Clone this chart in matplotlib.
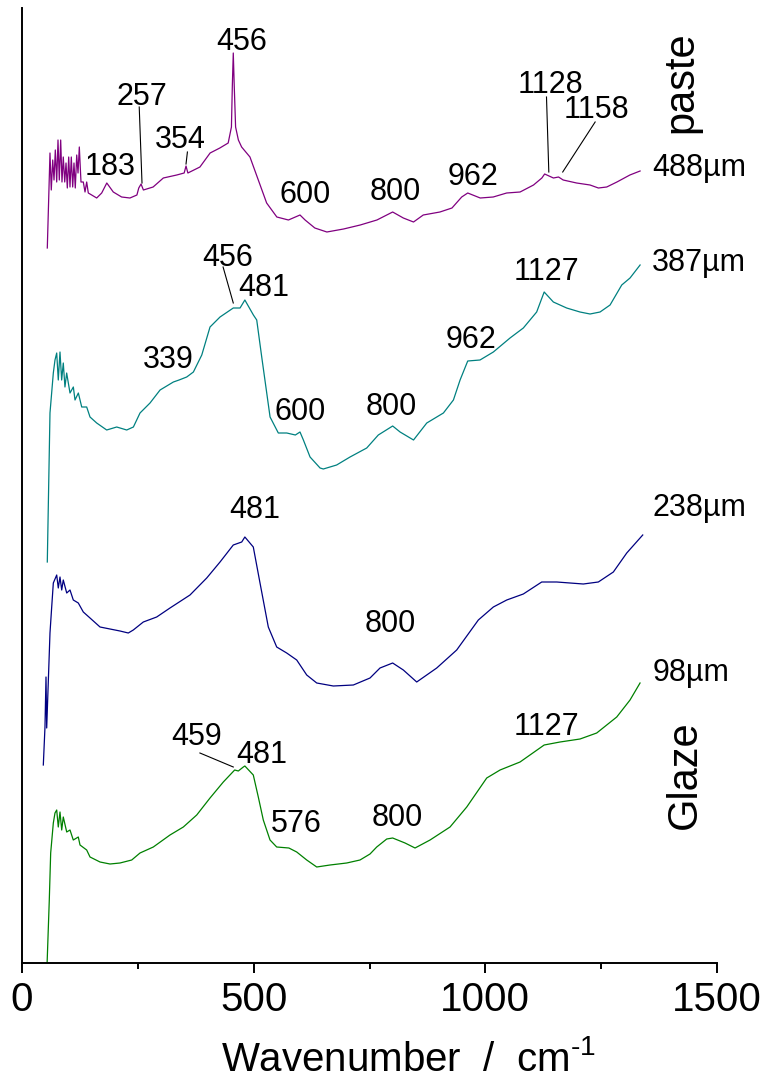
import matplotlib
matplotlib.use("Agg")
import matplotlib.pyplot as plt
from matplotlib.ticker import MultipleLocator

plt.rcParams['font.family'] = ['Liberation Sans', 'DejaVu Sans']
plt.rcParams['mathtext.fontset'] = 'custom'
plt.rcParams['mathtext.rm'] = 'Liberation Sans'
plt.rcParams['mathtext.it'] = 'Liberation Sans'

# Raman spectra across the section, stacked with an offset (arbitrary units)
paste_wn = [54.6, 60.4, 63.2, 66.3, 69.1, 71.9, 74.9, 77.7, 80.5, 83.5, 86.3, 89.1, 92.2, 95.0, 97.8,
            100.8, 103.6, 106.4, 109.4, 112.2, 115.0, 118.1, 120.9, 123.7, 127.3, 132.3, 136, 139.6,
            143.1, 150.4, 161.2, 172, 183, 197, 215, 233, 248, 252, 257, 262, 283, 305, 334, 350, 354,
            358, 384, 406, 427, 445, 452, 454, 456, 458, 461, 467, 474, 492, 510, 528, 550, 575, 600,
            611, 632, 658, 694, 730, 766, 800, 823, 845, 866, 902, 928, 949, 962, 989, 1017, 1046,
            1075, 1104, 1122, 1128, 1147, 1158, 1168, 1197, 1226, 1244, 1262, 1284, 1312, 1334]
paste_int = [717, 812, 775, 805, 785, 815, 783, 825, 785, 825, 783, 808, 783, 802, 777, 808, 778, 808,
             778, 802, 777, 810, 792, 818, 783, 783, 773, 783, 772, 770, 767, 772, 782, 773, 768, 767,
             770, 777, 781, 775, 778, 787, 790, 792, 799, 792, 798, 812, 817, 822, 838, 880, 912, 880,
             838, 825, 818, 808, 785, 762, 748, 745, 750, 745, 737, 733, 736, 740, 745, 753, 747, 743,
             750, 753, 757, 768, 772, 767, 768, 772, 773, 780, 787, 791, 787, 788, 785, 782, 780, 777,
             778, 783, 790, 794]

teal_wn = [54.6, 60.4, 67.6, 71.2, 74.9, 78.3, 82.0, 85.6, 89.1, 92.7, 96.4, 103.6, 110.8, 114.4, 121.6,
           128.9, 139.6, 146.8, 161.2, 182.8, 204.4, 226, 240.4, 254.7, 276.3, 298, 326.7, 339, 355.5,
           369.9, 388, 405.8, 427.4, 456, 470.6, 481, 499.4, 506.6, 517.4, 535.4, 553.2, 571.4, 590, 600,
           607.3, 621.7, 643.3, 650.3, 679.1, 708, 744, 769, 800, 816, 845, 873.6, 909.5, 931.1, 945.5,
           962, 988.5, 1017.3, 1053.3, 1082, 1110.8, 1127, 1146.8, 1175.5, 1204.3, 1226, 1247.6, 1269.2,
           1294.4, 1312.3, 1334]
teal_int = [403, 552, 592, 605, 612, 585, 613, 585, 602, 578, 592, 572, 578, 565, 572, 558, 558, 548,
            542, 535, 538, 535, 538, 552, 562, 575, 583, 585, 588, 593, 610, 638, 648, 657, 657, 665,
            650, 645, 608, 548, 532, 532, 530, 533, 525, 508, 497, 496, 500, 508, 517, 530, 539, 533,
            525, 542, 552, 565, 585, 604, 605, 613, 627, 637, 653, 673, 663, 657, 653, 651, 653, 660,
            680, 687, 700]

blue_wn = [46, 49.6, 51.8, 53.3, 60.4, 64.1, 67.6, 74.9, 78.3, 82, 85.7, 89.1, 96.5, 103.6, 110.7, 121.5,
           132.3, 146.8, 168.4, 189.9, 211.5, 229.4, 240.2, 261.8, 290.7, 319.4, 362.6, 398.7, 427.4,
           456, 474.2, 481, 499.2, 513.7, 531.6, 549.7, 571.3, 592.9, 614.5, 636.1, 671.9, 715.1, 751.1,
           772.7, 800, 823, 851.9, 895.1, 938.2, 984.9, 1017.3, 1046.2, 1082, 1121.7, 1154.1, 1211.5,
           1243.9, 1276.3, 1305.2, 1339.7]
blue_int = [200, 238, 288, 237, 332, 358, 382, 390, 377, 388, 375, 385, 372, 375, 365, 362, 353, 347,
            338, 336, 334, 332, 335, 343, 348, 357, 370, 387, 403, 420, 423, 428, 418, 382, 338, 318,
            312, 305, 290, 282, 279, 280, 287, 297, 302, 295, 283, 297, 315, 345, 358, 365, 371, 383,
            383, 381, 383, 393, 412, 430]

green_wn = [53.3, 58.9, 61.9, 67.6, 71.2, 74.9, 78.3, 82, 85.7, 89.1, 96.5, 103.6, 110.7, 121.5, 125.2,
            139.6, 146.8, 168.4, 189.9, 211.5, 236.8, 254.7, 283.4, 319.4, 348.2, 377.1, 405.8, 434.5,
            459, 466.9, 477.7, 481, 499.2, 510, 520.8, 535.3, 549.7, 576, 592.9, 614.5, 636.1, 664.8,
            700.8, 729.5, 751.1, 765.6, 787.2, 800, 826.7, 848.3, 880.7, 923.8, 959.9, 1003, 1031.8,
            1074.9, 1127, 1161.2, 1204.4, 1240.4, 1283.6, 1312.3, 1333.9]
green_int = [-10, 65, 112, 142, 152, 155, 138, 153, 135, 148, 133, 135, 125, 128, 120, 115, 108, 103,
             101, 102, 105, 112, 118, 130, 138, 150, 167, 183, 195, 194, 198, 199, 190, 168, 145, 125,
             118, 117, 113, 105, 98, 100, 102, 105, 111, 118, 126, 127, 122, 117, 125, 138, 158, 187,
             195, 203, 220, 223, 226, 232, 248, 265, 282]

# band labels: (text, x, y)
band_labels = [
    ('456', 475, 923), ('257', 258, 868), ('354', 341, 825), ('183', 190, 798),
    ('600', 611, 770), ('800', 805, 773), ('962', 974, 788), ('1128', 1140, 880),
    ('1158', 1240, 855),
    ('456', 445, 707), ('481', 521, 677), ('339', 316, 605), ('600', 600, 553),
    ('800', 798, 558), ('962', 968, 625), ('1127', 1132, 693),
    ('481', 503, 455), ('800', 794, 341),
    ('459', 377, 228), ('481', 517, 210), ('576', 593, 141), ('800', 809, 147),
    ('1127', 1132, 238),
]
# leader lines from label to band: ((x0, y0), (x1, y1))
leaders = [
    ((253, 858), (259, 782)), ((357, 813), (354, 801)),
    ((1132, 868), (1137, 793)), ((1237, 843), (1167, 793)),
    ((434, 698), (456, 662)),
    ((384, 212), (456, 198)),
]
depths = [('488µm', 1361, 797), ('387µm', 1359, 702), ('238µm', 1361, 457), ('98µm', 1361, 292)]

fig = plt.figure(figsize=(7.67, 10.79), dpi=100)
ax = fig.add_axes([22 / 767, 116 / 1079, 695 / 767, 955 / 1079])

ax.plot(paste_wn, paste_int, color='#800080', lw=0.9)
ax.plot(teal_wn, teal_int, color='#008080', lw=0.9)
ax.plot(blue_wn, blue_int, color='#000080', lw=0.9)
ax.plot(green_wn, green_int, color='#008000', lw=0.9)

for txt, x, y in band_labels:
    ax.text(x, y, txt, fontsize=22, ha='center', va='center')
for (x0, y0), (x1, y1) in leaders:
    ax.plot([x0, x1], [y0, y1], color='black', lw=0.8)
for txt, x, y in depths:
    ax.text(x, y, txt, fontsize=22, ha='left', va='center', clip_on=False)

ax.text(1424, 883, 'paste', fontsize=30, rotation=90, ha='center', va='center')
ax.text(1431, 190, 'Glaze', fontsize=30, rotation=90, ha='center', va='center')

ax.set_xlim(0, 1500)
ax.set_ylim(2, 957)
ax.spines['top'].set_visible(False)
ax.spines['right'].set_visible(False)
ax.spines['left'].set_linewidth(1.4)
ax.spines['bottom'].set_linewidth(1.4)
ax.set_yticks([])
ax.xaxis.set_major_locator(MultipleLocator(500))
ax.xaxis.set_minor_locator(MultipleLocator(250))
ax.tick_params(axis='x', which='major', direction='out', length=7, width=1.4, labelsize=29, pad=6)
ax.tick_params(axis='x', which='minor', direction='out', length=4, width=1.4)

ax.text(0.556, -0.113, r'Wavenumber  /  cm$^{\text{-1}}$', transform=ax.transAxes,
        fontsize=29, ha='center', va='baseline')

fig.savefig('out.png', dpi=100)
